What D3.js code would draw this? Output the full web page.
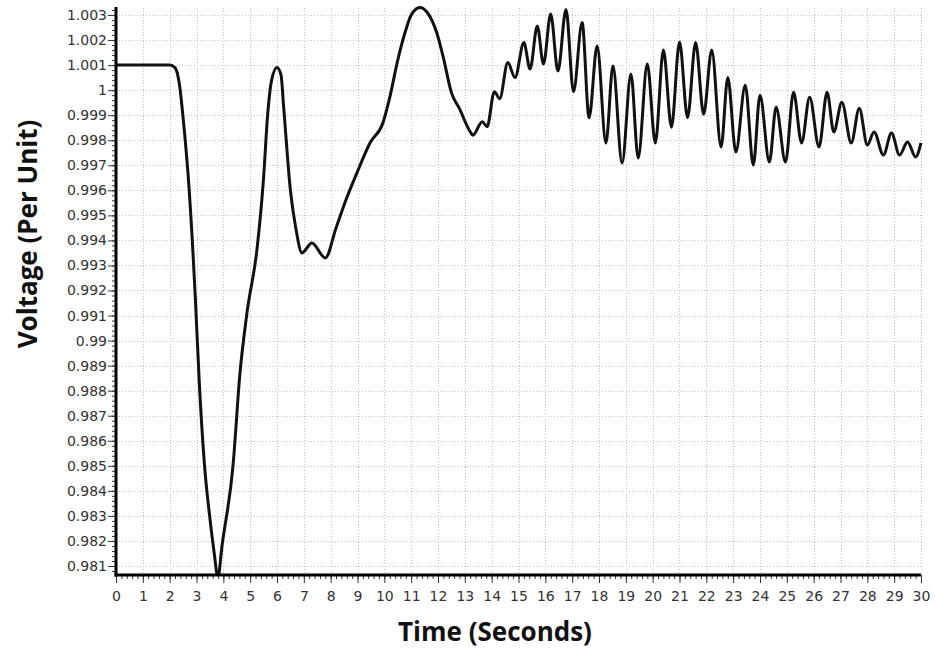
<!DOCTYPE html>
<html>
<head>
<meta charset="utf-8">
<script src="https://cdn.jsdelivr.net/npm/d3@7/dist/d3.min.js"></script>
<style>
  html, body { margin: 0; padding: 0; background: #fff; }
  svg { display: block; }
</style>
</head>
<body>
<svg id="chart" width="935" height="655"></svg>
<script>
// ---- Data ----
const timeValues = [
  0, 2.0, 2.2, 2.38, 2.5, 2.72, 2.96, 3.1, 3.3, 3.5, 3.65, 3.8, 3.95, 4.36, 4.62, 4.88, 5.26, 5.5, 5.65, 5.8, 6.0,
  6.15, 6.25, 6.5, 6.7, 6.93, 7.3, 7.8, 8.2, 8.6, 8.98, 9.47, 9.95, 10.2, 10.5, 10.8, 11.0, 11.33, 11.6, 11.95,
  12.2, 12.5, 12.8, 13.2, 13.3, 13.65, 13.83, 14.1, 14.3, 14.6, 14.87, 15.2, 15.43, 15.7, 15.93, 16.2, 16.47,
  16.77, 17.05, 17.37, 17.63, 17.93, 18.26, 18.52, 18.86, 19.19, 19.46, 19.8, 20.1, 20.4, 20.7, 21.0, 21.3,
  21.6, 21.9, 22.2, 22.55, 22.8, 23.1, 23.45, 23.75, 24.0, 24.35, 24.6, 24.95, 25.25, 25.55, 25.85, 26.2,
  26.5, 26.75, 27.05, 27.4, 27.7, 28.0, 28.25, 28.6, 28.9, 29.2, 29.5, 29.8, 30.0
];
const voltageValues = [
  1.001, 1.001, 1.0009, 1.0001, 0.9989, 0.99613, 0.99162, 0.9884, 0.9850, 0.9829, 0.9816, 0.98055, 0.9818, 0.985,
  0.9887, 0.9911, 0.9937, 0.9965, 0.999, 1.0004, 1.0009,
  1.0006, 0.9993, 0.996, 0.9945, 0.9935, 0.9939, 0.9933, 0.9945, 0.9957, 0.9967, 0.9979, 0.9987, 0.9997,
  1.0012, 1.0024, 1.003, 1.0033, 1.0031, 1.0023,
  1.0013, 0.9999, 0.99926, 0.99834, 0.9982, 0.99874, 0.99854, 0.99994, 0.99966, 1.0011, 1.0005, 1.0019,
  1.00084, 1.00256, 1.00104, 1.00304, 1.00076,
  1.00322, 0.99994, 1.0027, 0.9989, 1.00176, 0.99789, 1.00096, 0.99709, 1.00064, 0.99729, 1.00104, 0.99789,
  1.0016, 0.99852, 1.00192, 0.9989,
  1.0019, 0.99904, 1.0016, 0.99773, 1.0005, 0.99753, 1.0002, 0.99701, 0.9998, 0.99713, 0.99932, 0.99713,
  0.99992, 0.99789, 0.99972, 0.99773,
  0.99992, 0.99833, 0.99952, 0.99789, 0.99928, 0.99781, 0.99833, 0.99741, 0.99829, 0.99741, 0.99793,
  0.99733, 0.99789
];
const xTickValues = d3.range(0, 31, 1);
const yTickValues = [0.981, 0.982, 0.983, 0.984, 0.985, 0.986, 0.987, 0.988, 0.989, 0.99, 0.991, 0.992,
  0.993, 0.994, 0.995, 0.996, 0.997, 0.998, 0.999, 1, 1.001, 1.002, 1.003];
const xTitle = "Time (Seconds)";
const yTitle = "Voltage (Per Unit)";

// ---- Layout ----
const svg = d3.select("#chart");
const pLeft = 116, pRight = 921, pTop = 7, pBottom = 575;

const x = d3.scaleLinear().domain([0, 30]).range([pLeft, pRight]);
const y = d3.scaleLinear().domain([0.98064, 1.00332]).range([pBottom, pTop]);

const points = timeValues.map((t, i) => [t, voltageValues[i]]);

// Grid
const grid = svg.append("g");
grid.selectAll("line.v").data(xTickValues.slice(1)).join("line")
  .attr("x1", d => Math.round(x(d)) + 0.5).attr("x2", d => Math.round(x(d)) + 0.5)
  .attr("y1", pTop + 1).attr("y2", pBottom)
  .attr("stroke", "#c4c4c4").attr("stroke-width", 1)
  .attr("stroke-dasharray", "1,2");
grid.selectAll("line.h").data(yTickValues).join("line")
  .attr("x1", pLeft).attr("x2", pRight)
  .attr("y1", d => Math.round(y(d)) + 0.5).attr("y2", d => Math.round(y(d)) + 0.5)
  .attr("stroke", "#c4c4c4").attr("stroke-width", 1)
  .attr("stroke-dasharray", "1,2");

// Clip
svg.append("clipPath").attr("id", "plotclip")
  .append("rect").attr("x", pLeft).attr("y", 0).attr("width", pRight - pLeft + 2).attr("height", pBottom);

// Line
const line = d3.line().x(d => x(d[0])).y(d => y(d[1])).curve(d3.curveMonotoneX);
svg.append("path")
  .datum(points)
  .attr("clip-path", "url(#plotclip)")
  .attr("fill", "none")
  .attr("stroke", "#111")
  .attr("stroke-width", 3)
  .attr("stroke-linejoin", "round")
  .attr("d", line);

// Axes
const font = "'DejaVu Sans', Verdana, sans-serif";
const yAxis = d3.axisLeft(y).tickValues(yTickValues).tickFormat(d => String(+d.toFixed(3)))
  .tickSize(8).tickSizeOuter(0).tickPadding(1);
const yMinor = d3.axisLeft(y).tickValues(d3.range(0, 113).map(i => +(0.9808 + i * 0.0002).toFixed(4)).filter(v => v <= 1.0033))
  .tickSize(4).tickFormat("").tickSizeOuter(0);
const xAxis = d3.axisBottom(x).tickValues(xTickValues).tickSize(8).tickSizeOuter(0).tickPadding(8);
const xMinor = d3.axisBottom(x).tickValues(d3.range(0, 151).map(i => i * 0.2)).tickSize(4).tickFormat("").tickSizeOuter(0);

const gy = svg.append("g").attr("transform", `translate(${pLeft},0)`);
gy.call(yMinor);
const gy2 = svg.append("g").attr("transform", `translate(${pLeft},0)`).call(yAxis);
const gx = svg.append("g").attr("transform", `translate(0,${pBottom})`);
gx.call(xMinor);
const gx2 = svg.append("g").attr("transform", `translate(0,${pBottom})`).call(xAxis);

[gy, gy2, gx, gx2].forEach(g => {
  g.selectAll(".domain").remove();
  g.selectAll(".tick line").attr("stroke", "#333").attr("stroke-width", 1);
});
gy2.selectAll("text").attr("font-family", font).attr("font-size", 14).attr("fill", "#333");
gx2.selectAll("text").attr("font-family", font).attr("font-size", 14).attr("fill", "#333");

// Axis lines (thick)
svg.append("line").attr("x1", pLeft).attr("x2", pLeft).attr("y1", pTop).attr("y2", pBottom + 1.5)
  .attr("stroke", "#000").attr("stroke-width", 3);
svg.append("line").attr("x1", pLeft - 1.5).attr("x2", pRight).attr("y1", pBottom).attr("y2", pBottom)
  .attr("stroke", "#000").attr("stroke-width", 3);

// Titles
const titleFont = "'Open Sans', 'Noto Sans', sans-serif";
svg.append("text").attr("x", 495).attr("y", 641).attr("text-anchor", "middle")
  .attr("font-family", titleFont).attr("font-weight", "bold").attr("font-size", 26).attr("fill", "#111")
  .text(xTitle);
svg.append("text").attr("transform", "translate(37,234) rotate(-90)").attr("text-anchor", "middle")
  .attr("font-family", titleFont).attr("font-weight", "bold").attr("font-size", 26).attr("fill", "#111")
  .text(yTitle);
</script>
</body>
</html>
